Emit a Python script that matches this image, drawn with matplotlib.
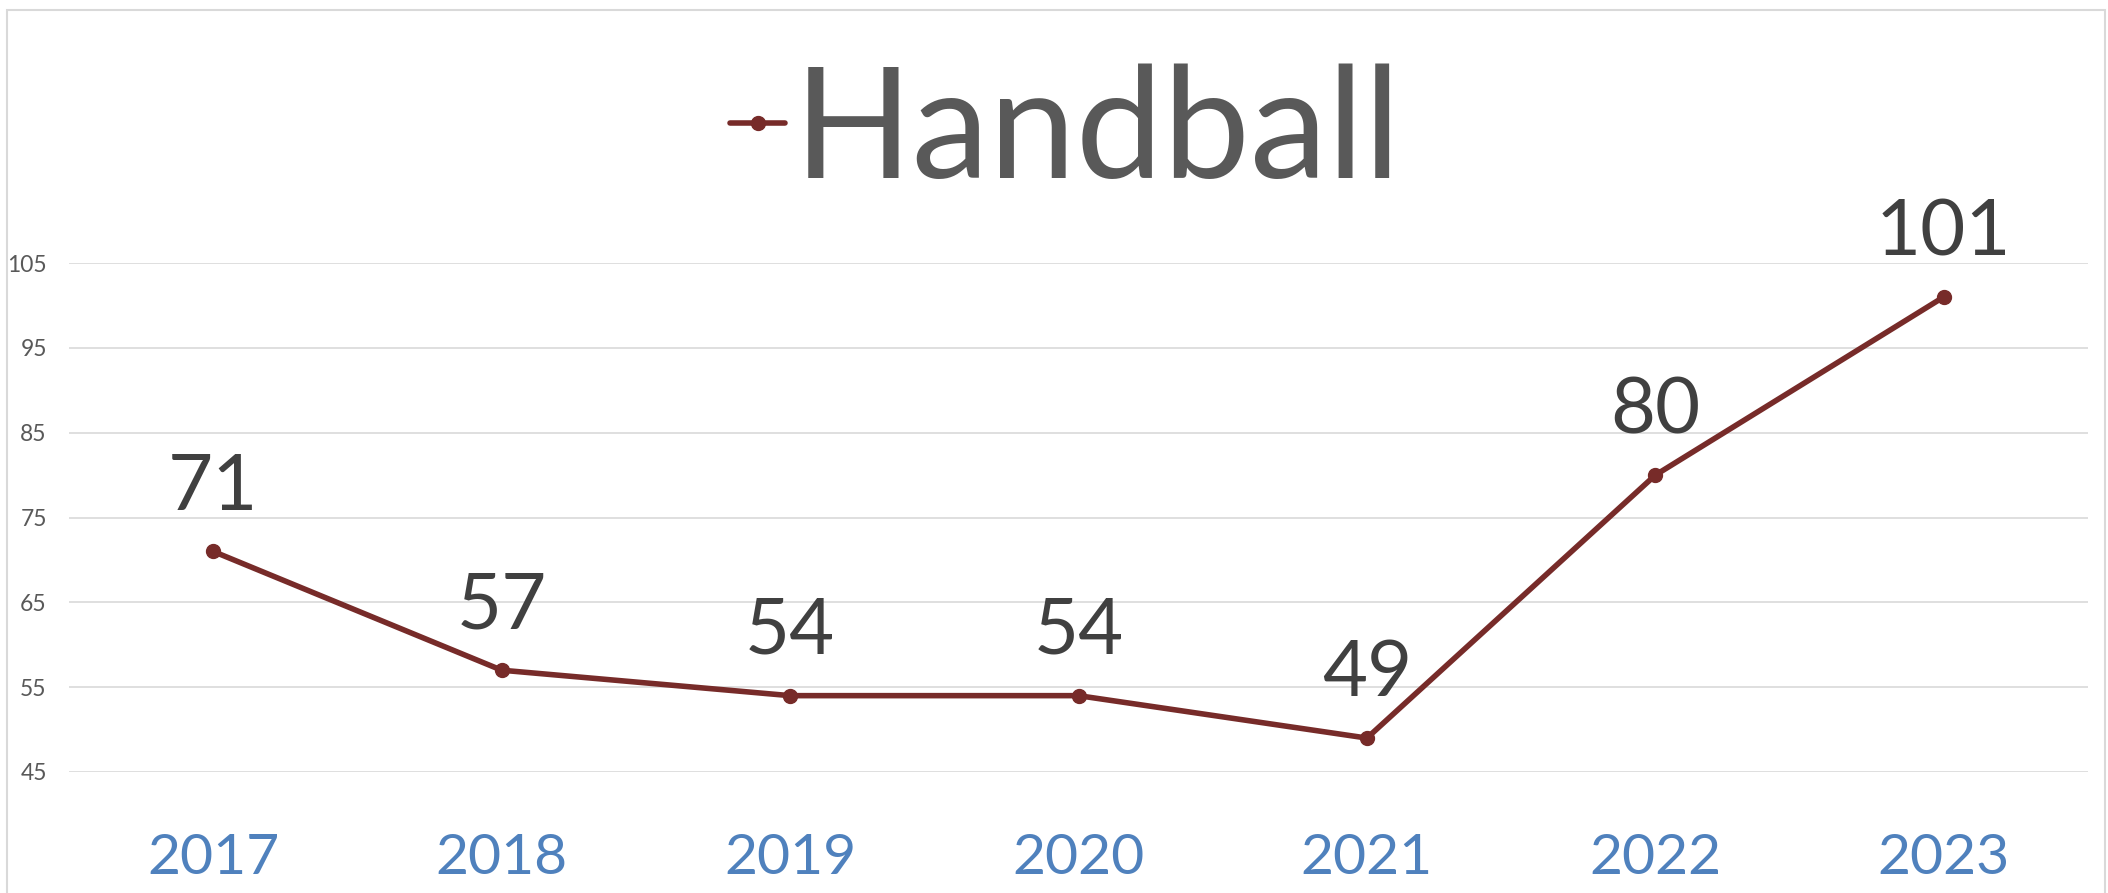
import matplotlib.pyplot as plt
from matplotlib.patches import Rectangle

plt.rcParams['font.family'] = ['Lato', 'DejaVu Sans']

years = ['2017', '2018', '2019', '2020', '2021', '2022', '2023']
handball = [71, 57, 54, 54, 49, 80, 101]
yticks = [45, 55, 65, 75, 85, 95, 105]

line_color = '#772B29'

fig = plt.figure(figsize=(21.08, 8.93), dpi=100)
ax = fig.add_axes([69 / 2108, 1 - 772 / 893, (2088 - 69) / 2108, (772 - 263) / 893])

x = range(len(years))
ax.plot(x, handball, color=line_color, linewidth=4.0, marker='o', markersize=10,
        solid_capstyle='round', label='Handball')

# data labels above each point
for xi, v in zip(x, handball):
    ax.annotate(str(v), (xi, v), xytext=(0, 20), textcoords='offset points',
                ha='center', va='bottom', fontsize=56, color='#404040')

ax.set_xlim(-0.5, len(years) - 0.5)
ax.set_ylim(45, 105)
ax.set_yticks(yticks)
ax.set_yticklabels([str(t) for t in yticks])
ax.set_xticks(list(x))
ax.set_xticklabels(years)
ax.tick_params(axis='y', length=0, pad=16, labelsize=16.5, labelcolor='#595959')
ax.tick_params(axis='x', length=0, pad=44, labelsize=41, labelcolor='#4F81BD')

ax.grid(axis='y', color='#D9D9D9', linewidth=1.2)
ax.set_axisbelow(True)
for s in ax.spines.values():
    s.set_visible(False)

leg = ax.legend(loc='center', bbox_to_anchor=(1066 / 2108, 1 - 134 / 893),
                bbox_transform=fig.transFigure, frameon=False, fontsize=112,
                handlelength=0.35, handletextpad=0.06, borderpad=0, borderaxespad=0)
for t in leg.get_texts():
    t.set_color('#595959')

# chart area border
fig.patches.append(Rectangle((7 / 2108, -0.05), (2105 - 7) / 2108, 1.05 - 10 / 893,
                             transform=fig.transFigure, fill=False,
                             edgecolor='#D9D9D9', linewidth=1.5))

fig.savefig('out.png', dpi=100)
